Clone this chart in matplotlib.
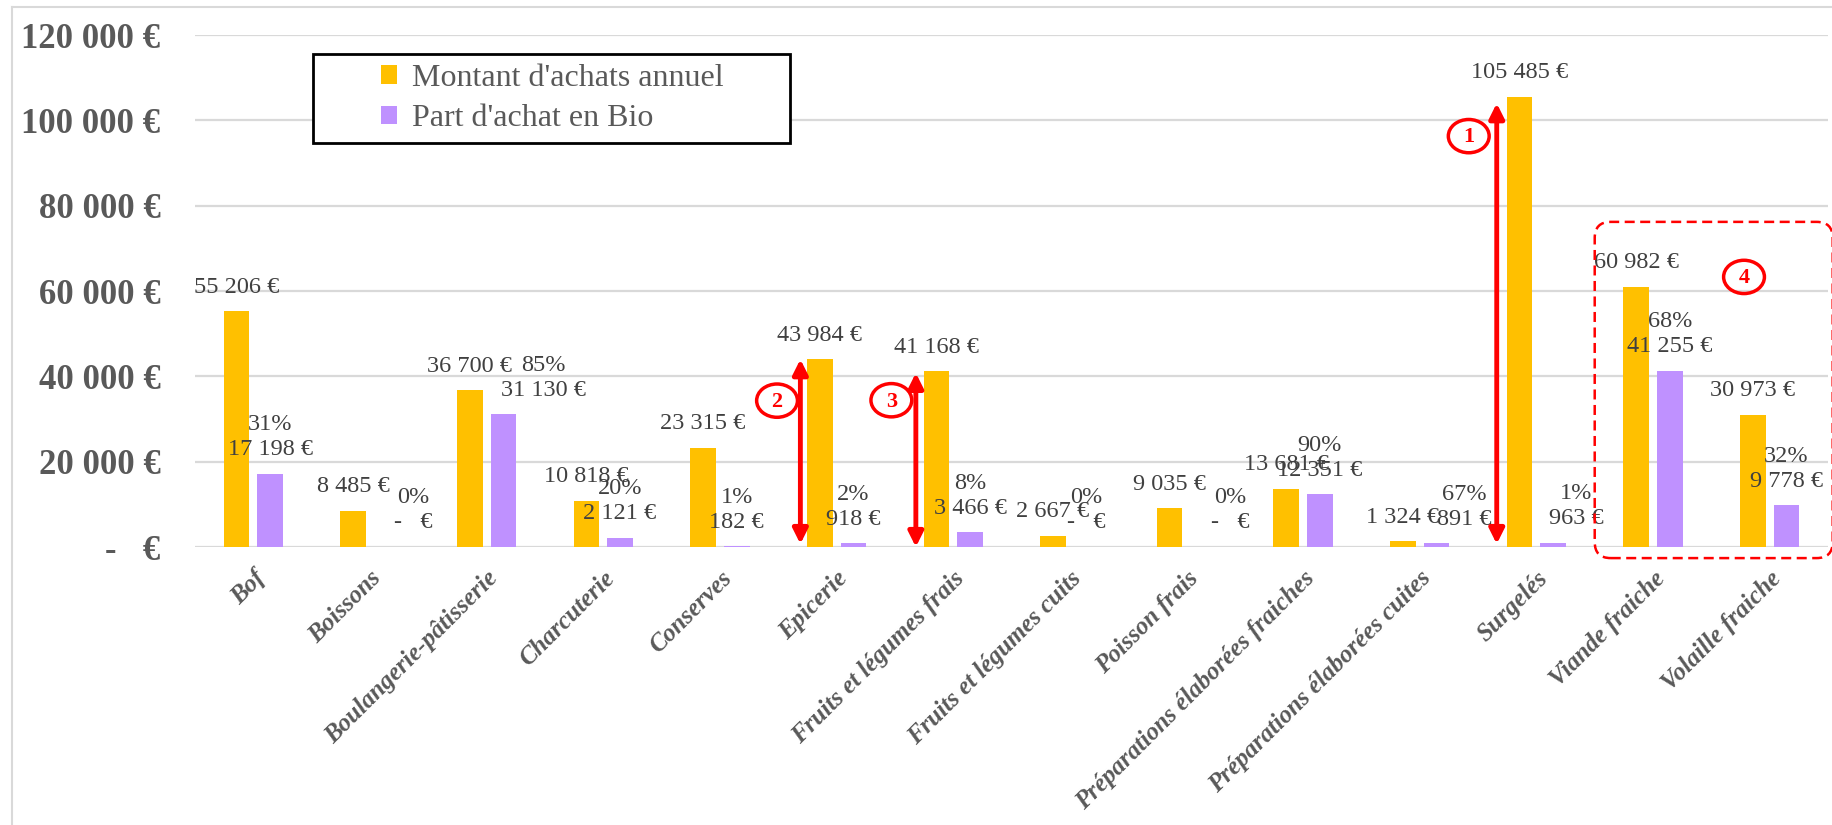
import matplotlib
matplotlib.use("Agg")
import matplotlib.pyplot as plt
import numpy as np
from matplotlib.patches import Ellipse, FancyBboxPatch, Rectangle
from matplotlib.transforms import ScaledTranslation

# ---------------- data ----------------
categories = ['Bof', 'Boissons', 'Boulangerie-pâtisserie', 'Charcuterie', 'Conserves',
              'Epicerie', 'Fruits et légumes frais', 'Fruits et légumes cuits',
              'Poisson frais', 'Préparations élaborées fraiches',
              'Préparations élaborées cuites', 'Surgelés', 'Viande fraiche',
              'Volaille fraiche']
montant = [55206, 8485, 36700, 10818, 23315, 43984, 41168, 2667, 9035, 13681,
           1324, 105485, 60982, 30973]
bio = [17198, 0, 31130, 2121, 182, 918, 3466, 0, 0, 12351, 891, 963, 41255, 9778]
bio_pct = ['31%', '0%', '85%', '20%', '1%', '2%', '8%', '0%', '0%', '90%',
           '67%', '1%', '68%', '32%']
series_names = ["Montant d'achats annuel", "Part d'achat en Bio"]
yticks = [0, 20000, 40000, 60000, 80000, 100000, 120000]

# ---------------- style ----------------
ORANGE = '#FFC000'
PURPLE = '#BF91FF'
GRAY = '#595959'
DARK = '#404040'
RED = '#FF0000'
SERIF = ['Liberation Serif', 'DejaVu Serif']
plt.rcParams['font.family'] = SERIF

W, H = 1833, 825
fig = plt.figure(figsize=(W / 100, H / 100), dpi=100)

def fx(px):
    return px / W

def fy(py):
    return 1 - py / H

ax_l, ax_r, ax_t, ax_b = 195, 1828, 35, 547
ax = fig.add_axes([fx(ax_l), fy(ax_b), fx(ax_r - ax_l), (ax_b - ax_t) / H])

def eur(v):
    if v == 0:
        return '-   €'
    return f"{v:,}".replace(',', ' ') + ' €'

x = np.arange(len(categories))
bw = 0.22
off = 0.144
b1 = ax.bar(x - off, montant, bw, color=ORANGE, label=series_names[0], zorder=3)
b2 = ax.bar(x + off, bio, bw, color=PURPLE, label=series_names[1], zorder=3)

ax.set_xlim(-0.5, len(categories) - 0.5)
ax.set_ylim(0, 120000)
ax.set_yticks(yticks)
ax.set_yticklabels([eur(v) for v in yticks], fontsize=25, fontweight='bold', color=GRAY)
ax.grid(axis='y', color='#D9D9D9', linewidth=1.6, zorder=0)
ax.set_axisbelow(True)
for s in ax.spines.values():
    s.set_visible(False)
ax.tick_params(axis='both', length=0)
ax.tick_params(axis='y', pad=25)

ax.set_xticks(x)
ax.set_xticklabels(categories, rotation=45, ha='right', va='center',
                   rotation_mode='anchor', fontsize=18, fontweight='bold',
                   fontstyle='italic', color=GRAY)
ax.tick_params(axis='x', pad=20)
for lbl in ax.get_xticklabels():
    lbl.set_transform(lbl.get_transform() + ScaledTranslation(8 / 100, 0, fig.dpi_scale_trans))

# data labels (purple labels moved sideways by hand in the original, in pixels)
bio_label_nudge = {'Boissons': 26, 'Boulangerie-pâtisserie': 40, 'Poisson frais': 27,
                   'Préparations élaborées cuites': 28, 'Surgelés': 23}
PT = 72 / 100  # pixels -> points
LFS = 17.5
for i, cat in enumerate(categories):
    ax.annotate(eur(montant[i]), (x[i] - off, montant[i]), xytext=(0, 17.3),
                textcoords='offset points', ha='center', va='center',
                fontsize=LFS, color=DARK, zorder=5)
    dx = bio_label_nudge.get(cat, 0) * PT
    ax.annotate(eur(bio[i]), (x[i] + off, bio[i]), xytext=(dx, 17.3),
                textcoords='offset points', ha='center', va='center',
                fontsize=LFS, color=DARK, zorder=5)
    ax.annotate(bio_pct[i], (x[i] + off, bio[i]), xytext=(dx, 35.3),
                textcoords='offset points', ha='center', va='center',
                fontsize=LFS, color=DARK, zorder=5)

# legend (frame drawn separately)
leg = fig.legend(handles=[b1, b2], labels=series_names, loc='center left',
                 bbox_to_anchor=(fx(381), fy(98.5)), frameon=False, fontsize=23,
                 handlelength=0.5, handleheight=0.5, handletextpad=0.47,
                 labelspacing=0.35, borderpad=0, borderaxespad=0)
for t in leg.get_texts():
    t.set_color(GRAY)
fig.add_artist(Rectangle((fx(313), fy(143)), fx(790 - 313), (143 - 54) / H,
                         transform=fig.transFigure, fill=True, facecolor='white',
                         edgecolor='black', linewidth=2, zorder=1))
leg.set_zorder(2)

# chart outer border (left / top)
fig.add_artist(plt.Line2D([fx(12), fx(12)], [fy(7), 0], color='#D9D9D9', lw=1.5,
                          transform=fig.transFigure))
fig.add_artist(plt.Line2D([fx(12), 1], [fy(7), fy(7)], color='#D9D9D9', lw=1.5,
                          transform=fig.transFigure))

# ---------------- annotations ----------------
idx = {c: i for i, c in enumerate(categories)}

def arrow(xd, y0, y1):
    ax.annotate('', xy=(xd, y1), xytext=(xd, y0),
                arrowprops=dict(arrowstyle='<|-|>', color=RED, lw=3.5,
                                mutation_scale=22, shrinkA=0, shrinkB=0),
                zorder=6)

def circ(xd, yd, txt):
    e = Ellipse((xd, yd), width=0.35, height=7800, fill=False, edgecolor=RED,
                linewidth=2.5, zorder=6, clip_on=False)
    ax.add_patch(e)
    ax.text(xd, yd - 300, txt, ha='center', va='center', fontsize=16,
            fontweight='bold', color=RED, zorder=7)

arrow(idx['Surgelés'] - 0.34, 700, 104000)
circ(idx['Surgelés'] - 0.58, 96300, '1')
arrow(idx['Epicerie'] - 0.31, 700, 44000)
circ(idx['Epicerie'] - 0.51, 34300, '2')
arrow(idx['Fruits et légumes frais'] - 0.32, 0, 40800)
circ(idx['Fruits et légumes frais'] - 0.53, 34400, '3')
circ(idx['Volaille fraiche'] - 0.22, 63300, '4')

# dashed rounded box around the last two categories (drawn in inches)
fig.canvas.draw()
p0 = ax.transData.transform((idx['Viande fraiche'] - 0.5, -2600))
p1 = ax.transData.transform((idx['Volaille fraiche'] + 0.54, 76200))
dpi = fig.dpi
box = FancyBboxPatch((p0[0] / dpi, p0[1] / dpi), (p1[0] - p0[0]) / dpi,
                     (p1[1] - p0[1]) / dpi,
                     boxstyle='round,pad=0,rounding_size=0.16',
                     transform=fig.dpi_scale_trans, fill=False, edgecolor=RED,
                     linewidth=1.8, linestyle=(0, (4, 2.2)), zorder=8)
fig.add_artist(box)

fig.savefig('out.png', dpi=100, facecolor='white')
